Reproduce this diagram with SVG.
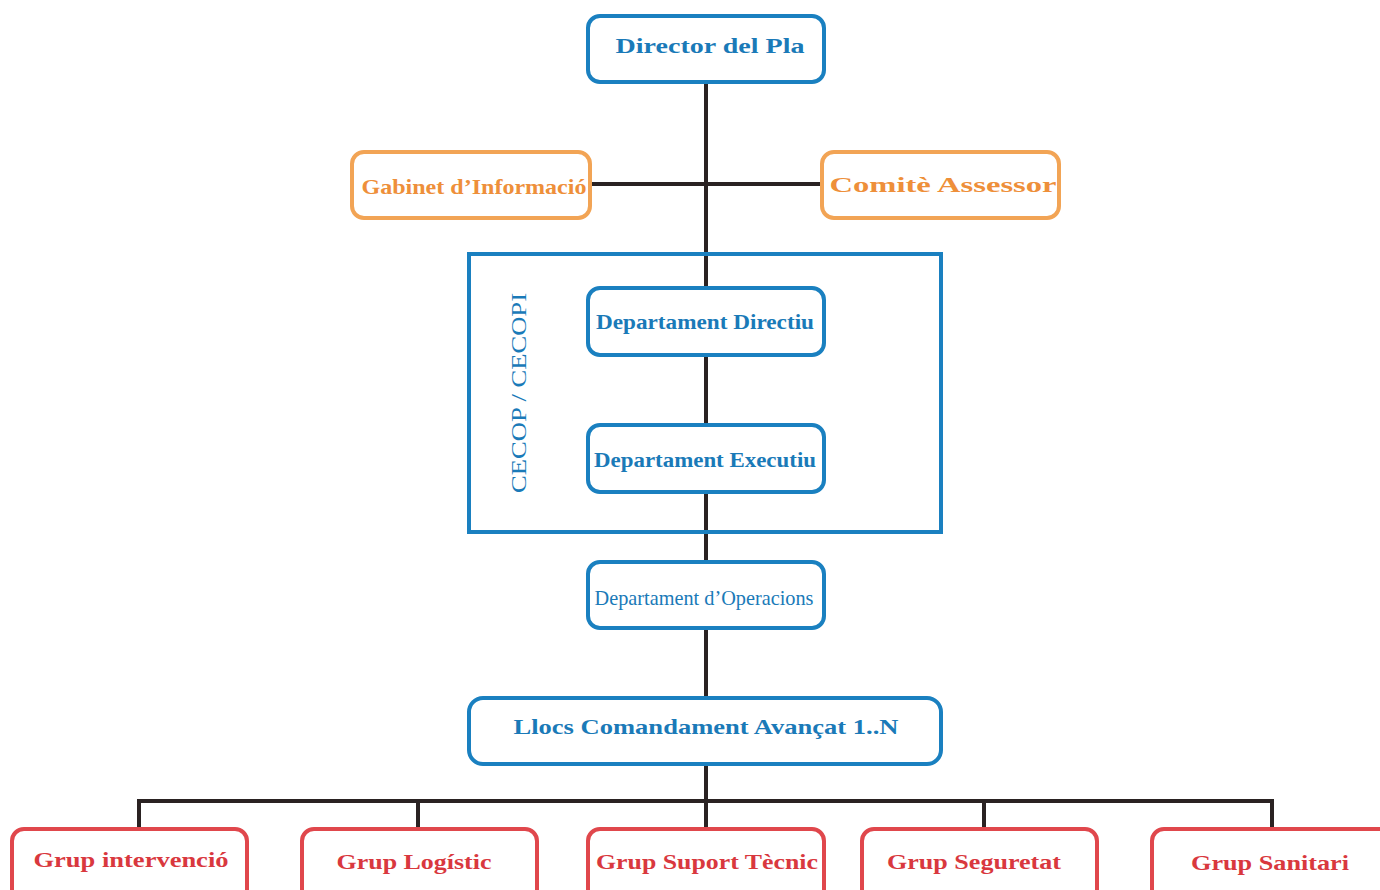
<svg xmlns="http://www.w3.org/2000/svg" width="1380" height="890" viewBox="0 0 1380 890">
<style>
.bg{fill:#ffffff}
.nb{fill:#ffffff;stroke:#1a80c0;stroke-width:4}
.no{fill:#ffffff;stroke:#f2a455;stroke-width:4}
.nr{fill:#ffffff;stroke:#e0474c;stroke-width:4}
.ln{stroke:#2a2222;stroke-width:4;fill:none}
text{font-family:"Liberation Serif","Times New Roman",serif;text-anchor:middle;dominant-baseline:central}
.tb{fill:#1a7ab8;font-size:22px;font-weight:bold}
.to{fill:#ee8f3a;font-size:22px;font-weight:bold}
.tr{fill:#d9383e;font-size:22px;font-weight:bold}
.tn{fill:#1a7ab8;font-size:21px}
</style>
<rect class="bg" x="0" y="0" width="1380" height="890"/>
<g id="connectors">
<line class="ln" x1="706" y1="82" x2="706" y2="287"/>
<line class="ln" x1="590" y1="184" x2="822" y2="184"/>
<line class="ln" x1="706" y1="355" x2="706" y2="424"/>
<line class="ln" x1="706" y1="492" x2="706" y2="561"/>
<line class="ln" x1="706" y1="628" x2="706" y2="697"/>
<line class="ln" x1="706" y1="764" x2="706" y2="828"/>
<line class="ln" x1="137" y1="801" x2="1274" y2="801"/>
<line class="ln" x1="139" y1="801" x2="139" y2="828"/>
<line class="ln" x1="418" y1="801" x2="418" y2="828"/>
<line class="ln" x1="984" y1="801" x2="984" y2="828"/>
<line class="ln" x1="1272" y1="801" x2="1272" y2="828"/>
</g>
<g id="cecop">
<rect x="469" y="254" width="472" height="278" fill="none" stroke="#1a80c0" stroke-width="4"/>
<text class="tn" x="519" y="393" transform="rotate(-90 519 393)" textLength="200" lengthAdjust="spacingAndGlyphs">CECOP / CECOPI</text>
</g>
<g id="director">
<rect class="nb" x="588" y="16" width="236" height="66" rx="12"/>
<text class="tb" x="710" y="45" textLength="189" lengthAdjust="spacingAndGlyphs">Director del Pla</text>
</g>
<g id="gabinet">
<rect class="no" x="352" y="152" width="238" height="66" rx="12"/>
<text class="to" x="474" y="186" textLength="225" lengthAdjust="spacingAndGlyphs">Gabinet d’Informació</text>
</g>
<g id="comite">
<rect class="no" x="822" y="152" width="237" height="66" rx="12"/>
<text class="to" x="943" y="184" textLength="227" lengthAdjust="spacingAndGlyphs">Comitè Assessor</text>
</g>
<g id="dept-directiu">
<rect class="nb" x="588" y="288" width="236" height="67" rx="12"/>
<text class="tb" x="705" y="321" textLength="218" lengthAdjust="spacingAndGlyphs">Departament Directiu</text>
</g>
<g id="dept-executiu">
<rect class="nb" x="588" y="425" width="236" height="67" rx="12"/>
<text class="tb" x="705" y="459" textLength="222" lengthAdjust="spacingAndGlyphs">Departament Executiu</text>
</g>
<g id="dept-operacions">
<rect class="nb" x="588" y="562" width="236" height="66" rx="12"/>
<text class="tn" x="704" y="598" textLength="219" lengthAdjust="spacingAndGlyphs">Departament d’Operacions</text>
</g>
<g id="llocs">
<rect class="nb" x="469" y="698" width="472" height="66" rx="14"/>
<text class="tb" x="706" y="726" textLength="385" lengthAdjust="spacingAndGlyphs">Llocs Comandament Avançat 1..N</text>
</g>
<g id="grup-intervencio">
<rect class="nr" x="12" y="829" width="235" height="80" rx="12"/>
<text class="tr" x="131" y="859" textLength="195" lengthAdjust="spacingAndGlyphs">Grup intervenció</text>
</g>
<g id="grup-logistic">
<rect class="nr" x="302" y="829" width="235" height="80" rx="12"/>
<text class="tr" x="414" y="861" textLength="155" lengthAdjust="spacingAndGlyphs">Grup Logístic</text>
</g>
<g id="grup-suport">
<rect class="nr" x="588" y="829" width="236" height="80" rx="12"/>
<text class="tr" x="707" y="861" textLength="222" lengthAdjust="spacingAndGlyphs">Grup Suport Tècnic</text>
</g>
<g id="grup-seguretat">
<rect class="nr" x="862" y="829" width="235" height="80" rx="12"/>
<text class="tr" x="974" y="861" textLength="174" lengthAdjust="spacingAndGlyphs">Grup Seguretat</text>
</g>
<g id="grup-sanitari">
<rect class="nr" x="1152" y="829" width="240" height="80" rx="12"/>
<text class="tr" x="1270" y="862" textLength="158" lengthAdjust="spacingAndGlyphs">Grup Sanitari</text>
</g>
</svg>
